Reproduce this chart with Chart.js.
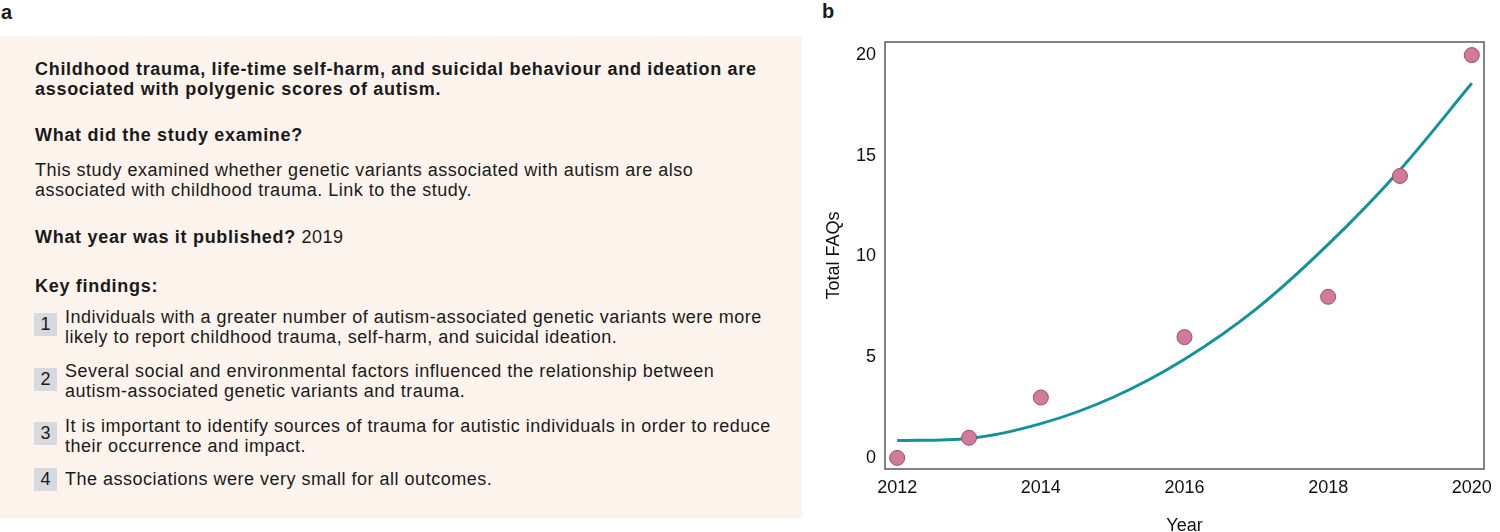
<!DOCTYPE html>
<html>
<head>
<meta charset="utf-8">
<script src="https://cdn.jsdelivr.net/npm/chart.js@4"></script>
<style>
  html, body { margin: 0; padding: 0; background: #fff; }
  body { width: 1500px; height: 532px; overflow: hidden; position: relative;
         font-family: "Liberation Sans", Arial, sans-serif; color: #1a1a1a; }
  .panel-label { position: absolute; font-weight: bold; font-size: 20px; line-height: 20px; }
  #boxA { position: absolute; left: 0; top: 36px; width: 802px; height: 482px; background: #fdf3ed; }
  .blk { position: absolute; left: 35px; font-size: 18px; line-height: 20px; white-space: nowrap; letter-spacing: 0.5px; }
  .b { font-weight: bold; letter-spacing: 0.7px; }
  .num { position: absolute; left: 34px; width: 23px; height: 23px; background: #d6d9dd;
         font-size: 18px; line-height: 23px; text-align: center; }
  .item { position: absolute; left: 65px; font-size: 18px; line-height: 20px; white-space: nowrap; letter-spacing: 0.5px; }
  #wrapB { position: absolute; left: 806px; top: 0; width: 694px; height: 532px; }
</style>
</head>
<body>
<div class="panel-label" style="left:1px; top:2px;">a</div>
<div class="panel-label" style="left:822px; top:1px;">b</div>

<div id="boxA"></div>
<div class="blk b" style="top:59px;">Childhood trauma, life-time self-harm, and suicidal behaviour and ideation are<br>associated with polygenic scores of autism.</div>
<div class="blk b" style="top:125px;">What did the study examine?</div>
<div class="blk" style="top:160px;">This study examined whether genetic variants associated with autism are also<br>associated with childhood trauma. Link to the study.</div>
<div class="blk" style="top:227px;"><span class="b">What year was it published?</span> 2019</div>
<div class="blk b" style="top:276px;">Key findings:</div>

<div class="num" style="top:313px;">1</div>
<div class="item" style="top:307px;">Individuals with a greater number of autism-associated genetic variants were more<br>likely to report childhood trauma, self-harm, and suicidal ideation.</div>
<div class="num" style="top:368px;">2</div>
<div class="item" style="top:361px;">Several social and environmental factors influenced the relationship between<br>autism-associated genetic variants and trauma.</div>
<div class="num" style="top:422px;">3</div>
<div class="item" style="top:416px;">It is important to identify sources of trauma for autistic individuals in order to reduce<br>their occurrence and impact.</div>
<div class="num" style="top:468px;">4</div>
<div class="item" style="top:469px;">The associations were very small for all outcomes.</div>

<div id="wrapB"><canvas id="chartB" width="694" height="532"></canvas></div>

<script>
// observed FAQ counts per year
const years = [2012, 2013, 2014, 2016, 2018, 2019, 2020];
const totalFaqs = [0, 1, 3, 6, 8, 14, 20];

// trend curve at each year
const trendYears = [2012, 2013, 2014, 2015, 2016, 2017, 2018, 2019, 2020];
const trendValues = [0.86, 0.97, 1.7, 3.0, 4.9, 7.4, 10.6, 14.3, 18.6];

const xTicks = [2012, 2014, 2016, 2018, 2020];
const yTicks = [0, 5, 10, 15, 20];

const tickFont = { family: "Liberation Sans", size: 18 };

// draw the full box around the plot area
const frame = {
    id: "frame",
    afterDraw(chart) {
        const a = chart.chartArea;
        const c = chart.ctx;
        c.save();
        c.strokeStyle = "#5a5a5a";
        c.lineWidth = 1.5;
        c.strokeRect(a.left, a.top, a.right - a.left, a.bottom - a.top);
        c.restore();
    }
};

const context = document.getElementById("chartB").getContext("2d");
const chart = new Chart(context, {
    type: "scatter",
    data: {
        datasets: [
            {
                label: "FAQs",
                data: years.map((y, i) => ({ x: y, y: totalFaqs[i] })),
                backgroundColor: "#d07b9b",
                borderColor: "#a9475f",
                borderWidth: 1,
                pointRadius: 7.5,
                order: 0
            },
            {
                label: "Trend",
                type: "line",
                data: trendYears.map((y, i) => ({ x: y, y: trendValues[i] })),
                borderColor: "#14929c",
                borderWidth: 3,
                pointRadius: 0,
                cubicInterpolationMode: "monotone",
                fill: false,
                order: 1
            }
        ]
    },
    options: {
        responsive: false,
        animation: false,
        layout: { padding: { top: 42, right: 9, left: 0, bottom: 0 } },
        plugins: { legend: { display: false }, tooltip: { enabled: false } },
        scales: {
            x: {
                type: "linear",
                min: 2011.83,
                max: 2020.17,
                grid: { display: false, drawTicks: false },
                border: { display: false },
                afterBuildTicks: s => { s.ticks = xTicks.map(v => ({ value: v })); },
                afterFit: s => { s.height = 63; },
                ticks: { color: "#111", font: tickFont, padding: 8, maxRotation: 0, callback: v => String(v) },
                title: { display: true, text: "Year", color: "#111", font: { family: "Liberation Sans", size: 18, lineHeight: 1 }, padding: { top: 0, bottom: -3 } }
            },
            y: {
                min: -0.55,
                max: 20.65,
                grid: { display: false, drawTicks: false },
                border: { display: false },
                afterBuildTicks: s => { s.ticks = yTicks.map(v => ({ value: v })); },
                afterFit: s => { s.width = 79; },
                ticks: { color: "#111", font: tickFont, padding: 9, callback: v => String(v) },
                title: { display: true, text: "Total FAQs", color: "#111", font: { family: "Liberation Sans", size: 18, lineHeight: 1 }, padding: { top: 19, bottom: 0 } }
            }
        }
    },
    plugins: [frame]
});
</script>
</body>
</html>
